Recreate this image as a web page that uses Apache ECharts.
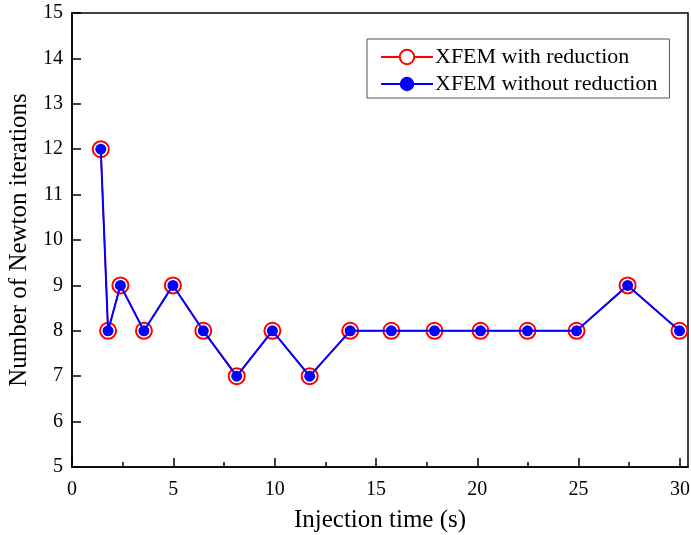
<!DOCTYPE html>
<html lang="en">
<head>
    <meta charset="UTF-8">
    <title>Newton iterations</title>
    <script src="https://cdn.jsdelivr.net/npm/echarts@6/dist/echarts.min.js"></script>
    <style>
        html, body { margin: 0; padding: 0; background: #fff; }
        #main { width: 691px; height: 535px; }
    </style>
</head>
<body>
<div id="main"></div>
<script>
    // injection time (s) and iteration counts
    var times = [1.42, 1.78, 2.39, 3.55, 4.98, 6.48, 8.13, 9.89, 11.73, 13.73, 15.76, 17.89, 20.16, 22.48, 24.9, 27.42, 29.98];
    var withReduction = [12, 8, 9, 8, 9, 8, 7, 8, 7, 8, 8, 8, 8, 8, 8, 9, 8];
    var withoutReduction = [12, 8, 9, 8, 9, 8, 7, 8, 7, 8, 8, 8, 8, 8, 8, 9, 8];
    var seriesNames = ['XFEM with reduction', 'XFEM without reduction'];
    var xMajorTicks = [0, 5, 10, 15, 20, 25, 30];
    var xMinorTicks = [2.5, 7.5, 12.5, 17.5, 22.5, 27.5];

    function pairs(xs, ys) {
        var out = [];
        for (var i = 0; i < xs.length; i++) out.push([xs[i], ys[i]]);
        return out;
    }

    var font = 'Liberation Serif';
    var tickLine = { color: '#000', width: 1.5 };
    var myChart = echarts.init(document.getElementById('main'));
    var option = {
        animation: false,
        backgroundColor: '#fff',
        textStyle: { fontFamily: font },
        grid: {
            left: 72, right: 3, top: 13, bottom: 68,
            outerBoundsMode: 'none',
            show: true, borderColor: '#000', borderWidth: 1.5
        },
        legend: {
            data: seriesNames,
            orient: 'vertical',
            left: 367,
            top: 39,
            padding: [7, 12, 3, 13],
            itemGap: 5,
            itemWidth: 52,
            itemHeight: 18,
            borderColor: '#555',
            borderWidth: 1,
            textStyle: { fontFamily: font, fontSize: 22, color: '#000', padding: [0, 0, 0, -3] }
        },
        xAxis: [
            {
                type: 'value',
                min: 0, max: 30.4,
                name: 'Injection time (s)',
                nameLocation: 'middle',
                nameGap: 41,
                nameTextStyle: { fontFamily: font, fontSize: 25, color: '#000' },
                axisLine: { lineStyle: tickLine },
                axisTick: { inside: true, length: 9, lineStyle: tickLine, customValues: xMajorTicks },
                axisLabel: { fontFamily: font, fontSize: 20, color: '#000', margin: 13, customValues: xMajorTicks },
                splitLine: { show: false }
            },
            {
                // only carries the short ticks between the labelled ones
                type: 'value',
                position: 'bottom',
                min: 0, max: 30.4,
                axisLine: { show: false },
                axisTick: { inside: true, length: 5, lineStyle: tickLine, customValues: xMinorTicks },
                axisLabel: { show: false },
                splitLine: { show: false }
            }
        ],
        yAxis: {
            type: 'value',
            min: 5, max: 15, interval: 1,
            name: 'Number of Newton iterations',
            nameLocation: 'middle',
            nameGap: 38,
            nameTextStyle: { fontFamily: font, fontSize: 25, color: '#000' },
            axisLine: { lineStyle: tickLine },
            axisTick: { inside: true, length: 9, lineStyle: tickLine },
            axisLabel: { fontFamily: font, fontSize: 20, color: '#000', margin: 9 },
            splitLine: { show: false }
        },
        series: [
            {
                name: seriesNames[0],
                type: 'line',
                data: pairs(times, withReduction),
                symbol: 'emptyCircle',
                symbolSize: 16,
                itemStyle: { color: '#f00', borderColor: '#f00', borderWidth: 1.3 },
                lineStyle: { color: '#f00', width: 1.5 },
                z: 2
            },
            {
                name: seriesNames[1],
                type: 'line',
                data: pairs(times, withoutReduction),
                symbol: 'circle',
                symbolSize: 11,
                itemStyle: { color: '#00f' },
                lineStyle: { color: '#00f', width: 2 },
                z: 3
            }
        ]
    };
    myChart.setOption(option);
</script>
</body>
</html>
